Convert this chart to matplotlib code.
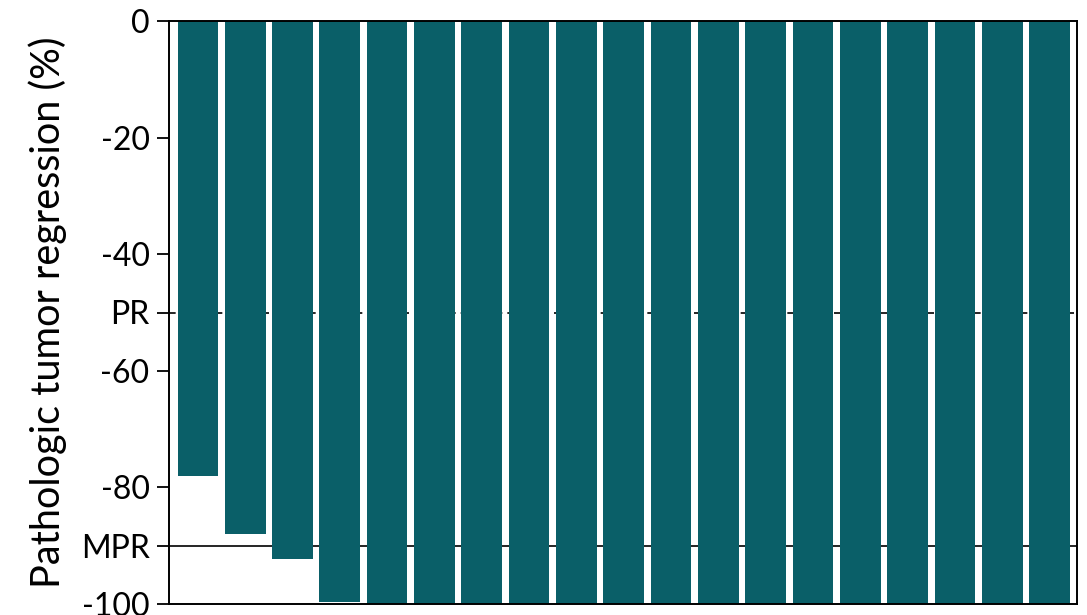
import numpy as np
import matplotlib.pyplot as plt

plt.rcParams["font.family"] = ["Lato", "DejaVu Sans"]

# tumor regression per patient (%)
regression = [-78, -88, -92.3, -99.6, -100, -100, -100, -100, -100, -100,
              -100, -100, -100, -100, -100, -100, -100, -100, -100]
ytick_vals = [0, -20, -40, -50, -60, -80, -90, -100]
ytick_labels = ["0", "-20", "-40", "PR", "-60", "-80", "MPR", "-100"]
pr_cut = -50
mpr_cut = -90

fig = plt.figure(figsize=(10.87, 6.15), dpi=100)
ax = fig.add_axes([169 / 1087, 11 / 615, 908 / 1087, 583 / 615])

x = np.arange(len(regression))
ax.axhline(pr_cut, color="black", lw=1.2, ls=(0, (4, 3)), zorder=1)
ax.axhline(mpr_cut, color="black", lw=1.2, zorder=1)
ax.bar(x, regression, width=0.86, color="#0a5f68", zorder=2)

ax.set_xlim(-0.61, 18.58)
ax.set_ylim(-100, 0)
ax.set_xticks([])
ax.set_yticks(ytick_vals)
ax.set_yticklabels(ytick_labels, fontsize=23)
ax.tick_params(axis="y", direction="out", length=9, width=1.3, pad=5)
for s in ax.spines.values():
    s.set_linewidth(1.4)
    s.set_zorder(3)

ax.set_ylabel("Pathologic tumor regression (%)", fontsize=28.5, labelpad=10)

fig.savefig("out.png", dpi=100)
